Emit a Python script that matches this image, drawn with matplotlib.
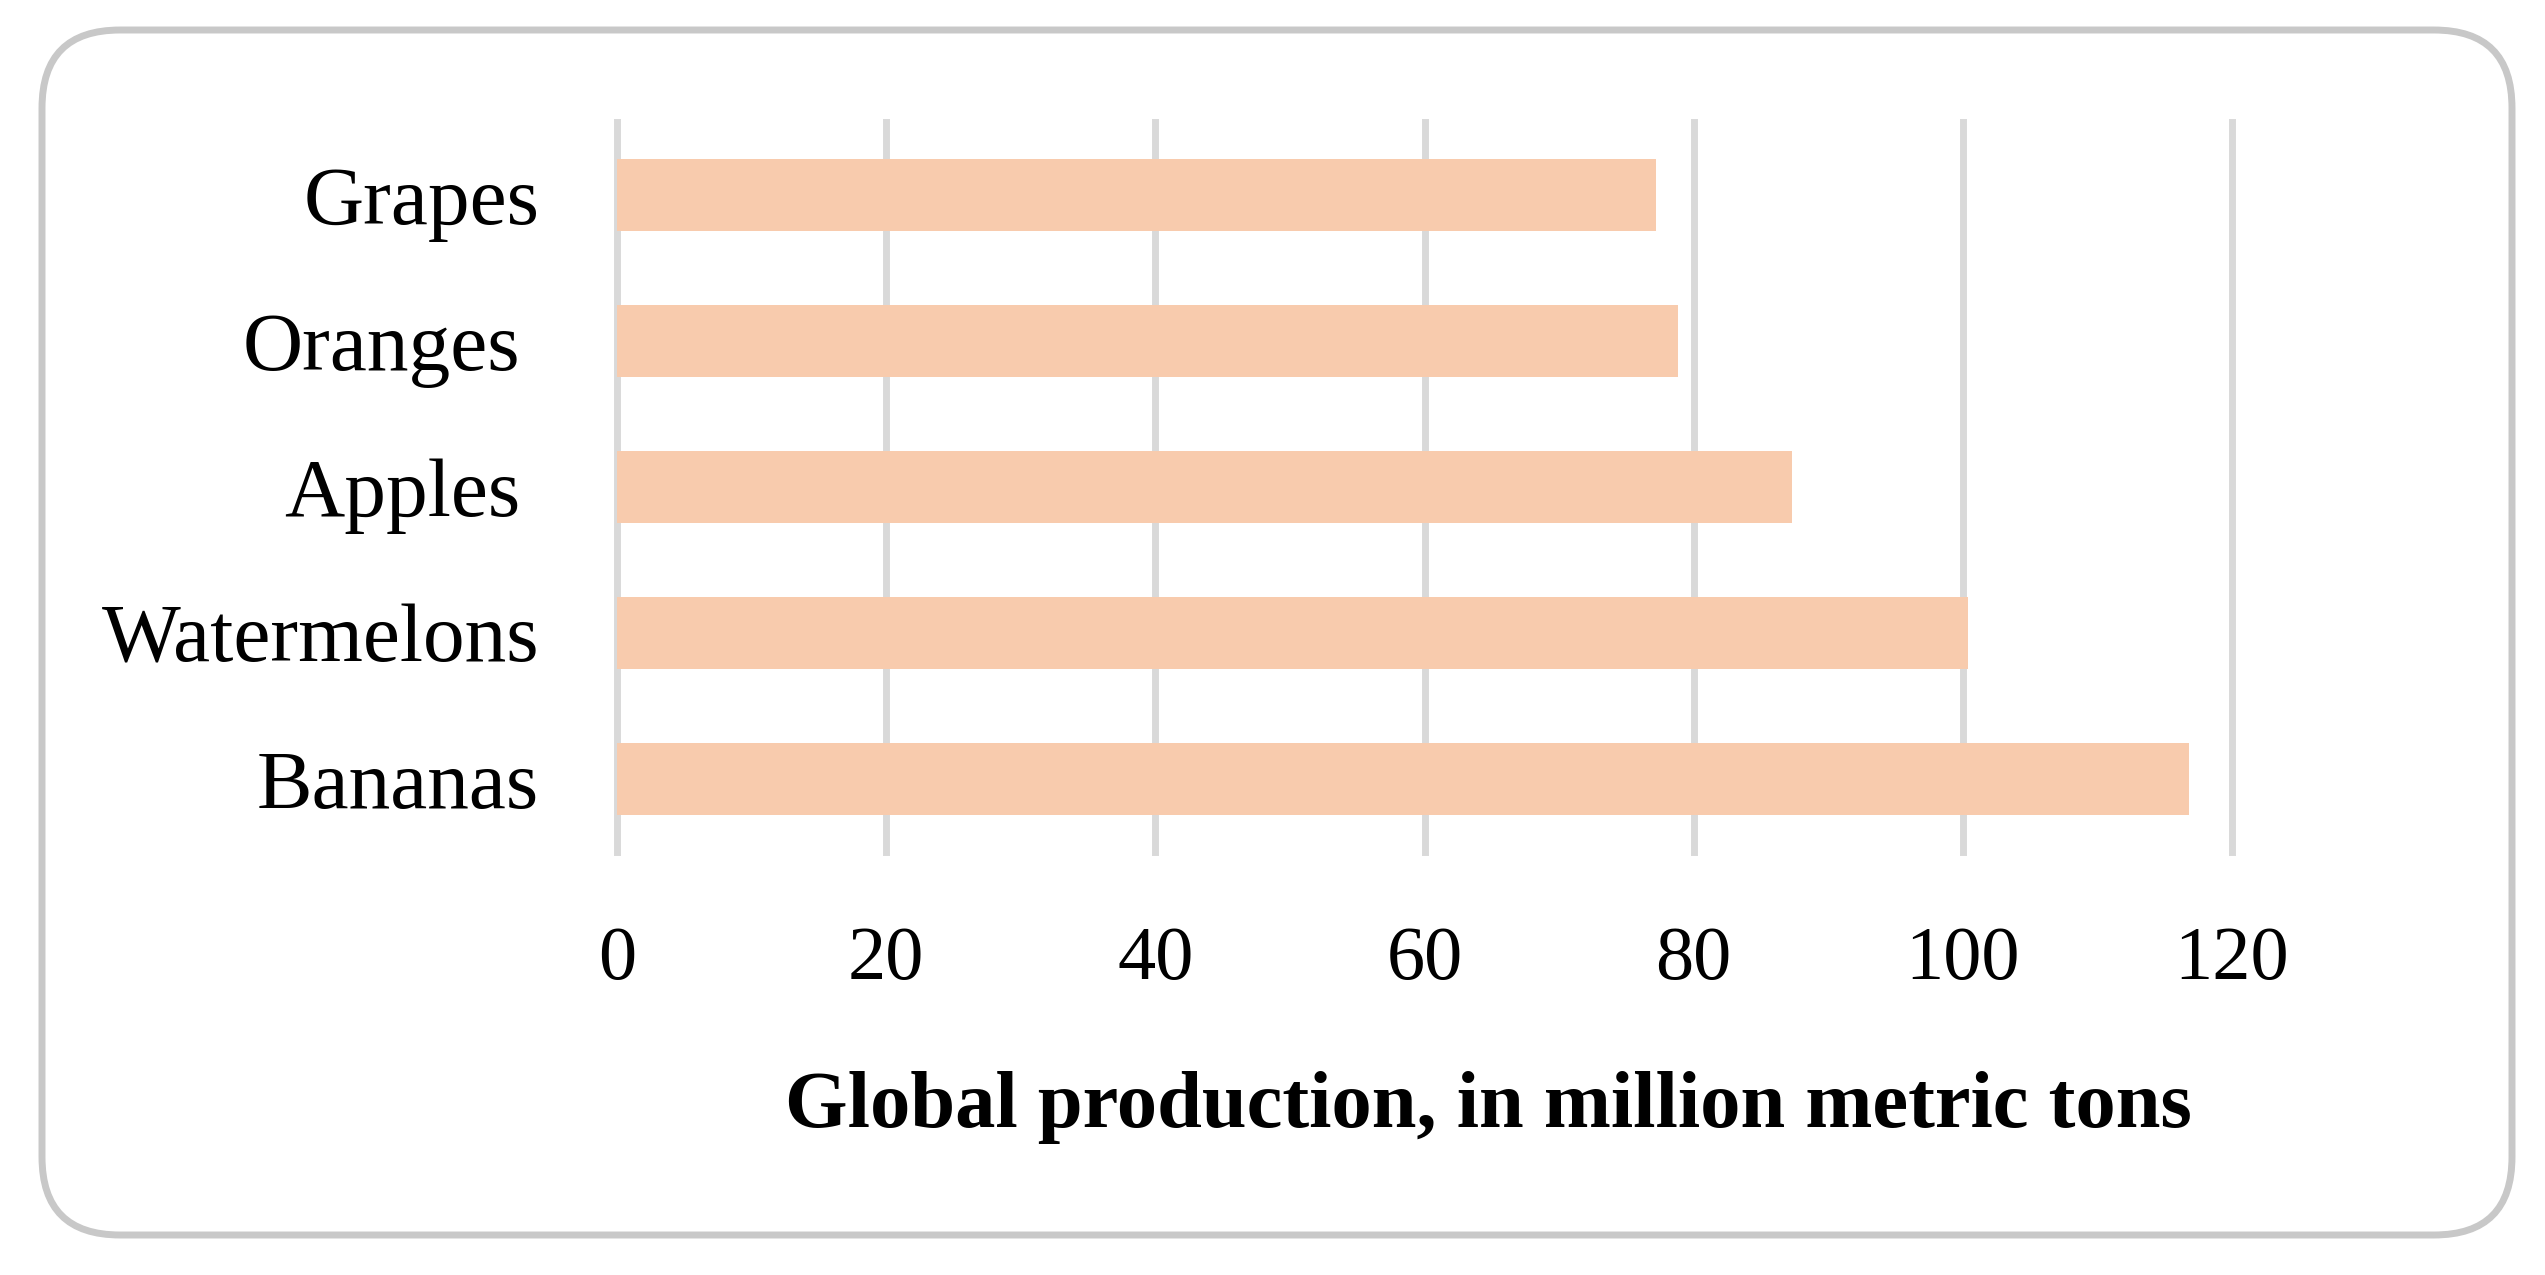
import matplotlib
matplotlib.use("Agg")
import matplotlib.pyplot as plt
from matplotlib.patches import FancyBboxPatch
from matplotlib.transforms import ScaledTranslation

# Data (top to bottom as shown)
fruits = ["Grapes", "Oranges", "Apples", "Watermelons", "Bananas"]
production = [77.2, 78.8, 87.3, 100.4, 116.8]
x_ticks = [0, 20, 40, 60, 80, 100, 120]
x_label = "Global production, in million metric tons"

W, H, DPI = 2545, 1275, 100
fig = plt.figure(figsize=(W / DPI, H / DPI), dpi=DPI)
fig.patch.set_facecolor("white")

ax = fig.add_axes([617 / W, 1 - 852 / H, (2232 - 617) / W, (852 - 122) / H])

serif = ["Liberation Serif", "DejaVu Serif"]
bar_color = "#F8CBAD"
grid_color = "#D9D9D9"

ypos = list(range(len(fruits)))
ax.barh(ypos, production, height=0.49, color=bar_color, zorder=2)
ax.set_ylim(len(fruits) - 0.5, -0.5)
ax.set_xlim(0, 120)

ax.set_xticks(x_ticks)
ax.set_xticklabels([str(t) for t in x_ticks], fontfamily=serif, fontsize=55)
ax.set_yticks(ypos)
ax.set_yticklabels(fruits, fontfamily=serif, fontsize=60)

ax.tick_params(axis="both", length=0)
ax.tick_params(axis="x", pad=53)
ax.tick_params(axis="y", pad=56)

for s in ax.spines.values():
    s.set_visible(False)

ax.set_axisbelow(True)
for t in x_ticks:
    ax.axvline(t, color=grid_color, linewidth=5, zorder=1, clip_on=False)

# small per-label horizontal offsets (pixels, right-positive)
offsets_px = [0, -19, -19, 0, 0]
for lab, dx in zip(ax.get_yticklabels(), offsets_px):
    lab.set_transform(lab.get_transform() + ScaledTranslation(dx / DPI, 0, fig.dpi_scale_trans))

fig.text(1488 / W, 148 / H, x_label, ha="center", va="baseline",
         fontfamily=serif, fontweight="bold", fontsize=58)

# Rounded border
border = FancyBboxPatch((0.42, 0.40), 24.70, 12.05,
                        boxstyle="round,pad=0,rounding_size=0.78",
                        transform=fig.dpi_scale_trans,
                        facecolor="none", edgecolor="#C8C8C8", linewidth=5)
fig.patches.append(border)

fig.savefig("out.png", dpi=DPI, facecolor="white")
